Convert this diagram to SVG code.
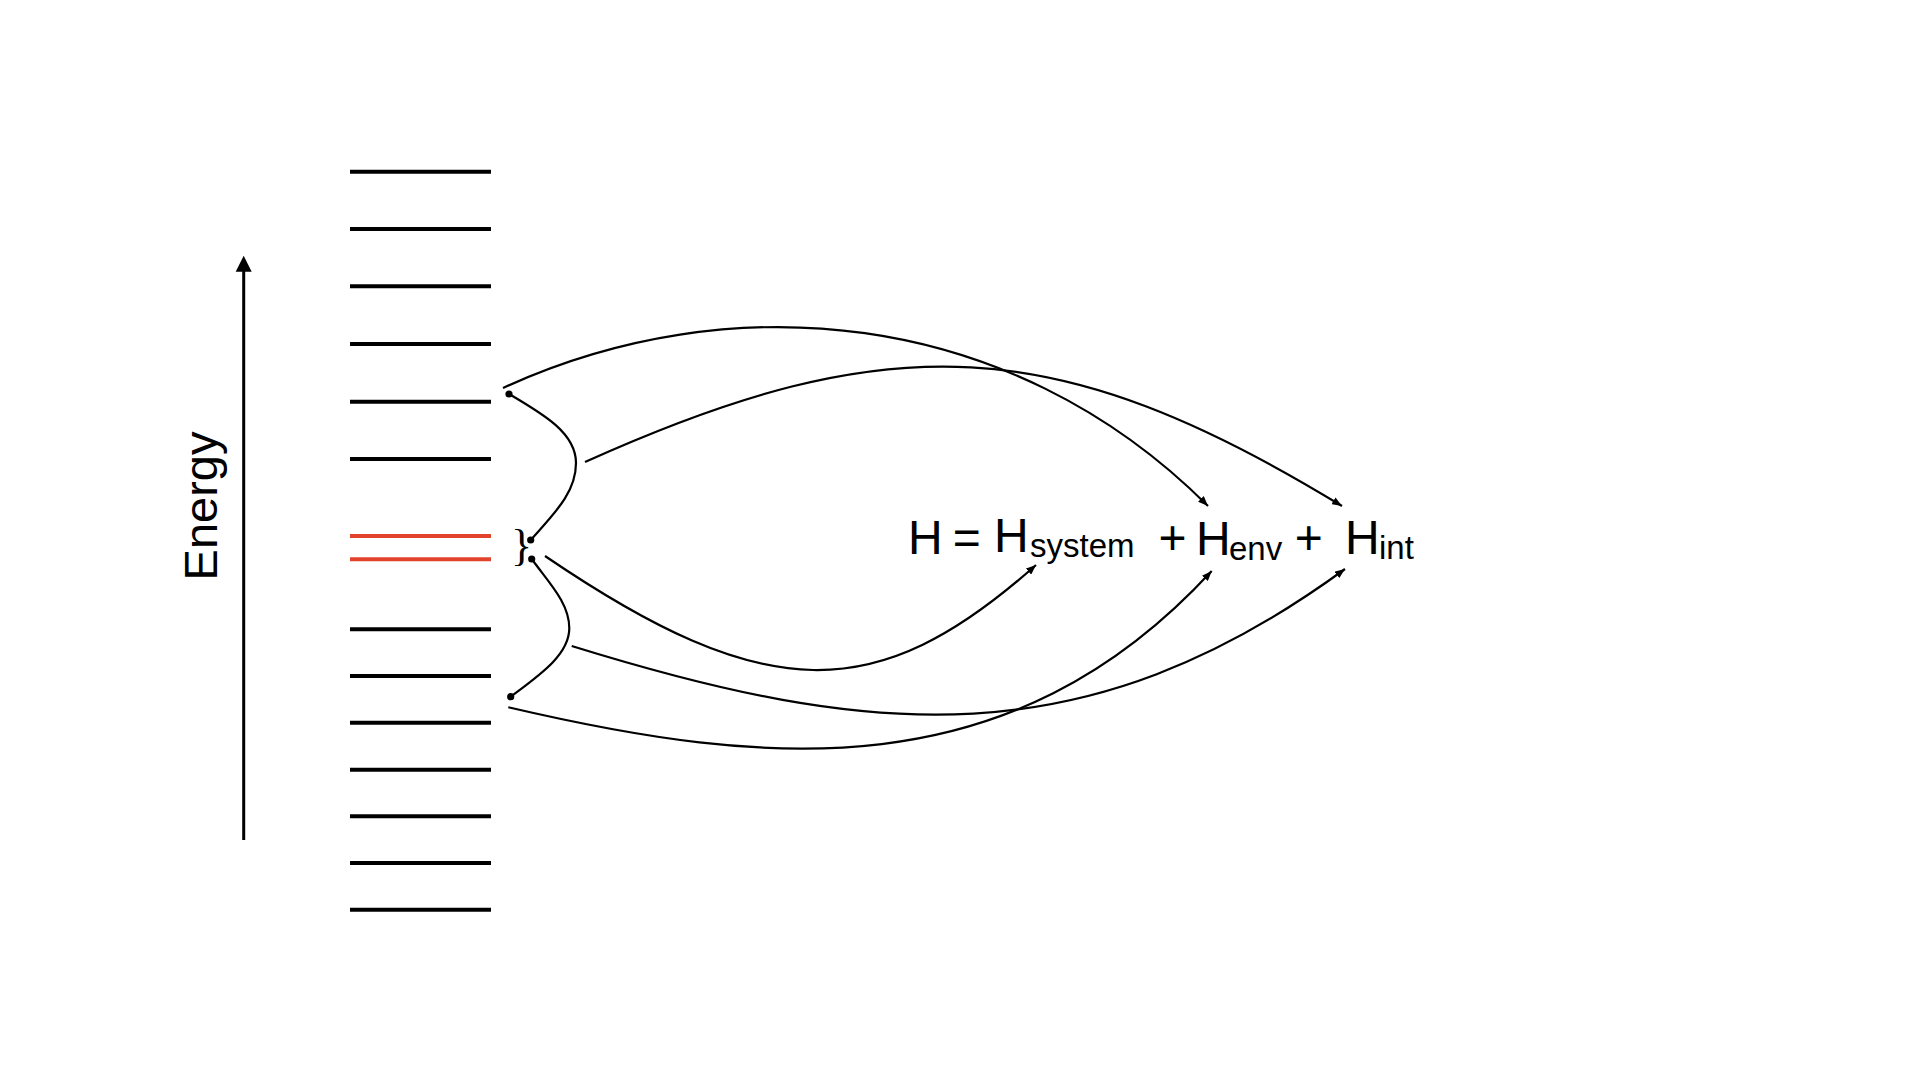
<svg xmlns="http://www.w3.org/2000/svg" width="1920" height="1080" viewBox="0 0 1920 1080">
<style>
.lvl{stroke:#000;stroke-width:4;fill:none}
.red{stroke:#e2432d;stroke-width:4;fill:none}
.con{stroke:#000;stroke-width:2.2;fill:none}
.arr{stroke:#000;stroke-width:2.2;fill:none;marker-end:url(#ah)}
.dot{fill:#000}
.t{font-family:"Liberation Sans",Arial,Helvetica,sans-serif;fill:#000}
.big{font-size:48px}
.sub{font-size:33px}
</style>
<defs>
<marker id="ah" viewBox="0 0 10 8" refX="10" refY="4" markerWidth="10" markerHeight="8" markerUnits="userSpaceOnUse" orient="auto">
<path d="M0,0 L10,4 L0,8 z" fill="#000"/>
</marker>
</defs>
<rect width="1920" height="1080" fill="#fff"/>
<g id="energy-axis">
<line x1="243.7" y1="840" x2="243.7" y2="270" stroke="#000" stroke-width="3"/>
<path d="M243.7,255.7 L251.7,271.7 L235.7,271.7 z" fill="#000"/>
<text class="t" font-size="47" text-anchor="middle" transform="translate(216.5,506) rotate(-90)">Energy</text>
</g>
<g id="levels">
<line class="lvl" x1="350" y1="171.7" x2="491" y2="171.7"/>
<line class="lvl" x1="350" y1="229" x2="491" y2="229"/>
<line class="lvl" x1="350" y1="286.3" x2="491" y2="286.3"/>
<line class="lvl" x1="350" y1="344" x2="491" y2="344"/>
<line class="lvl" x1="350" y1="401.7" x2="491" y2="401.7"/>
<line class="lvl" x1="350" y1="459" x2="491" y2="459"/>
<line class="red" x1="350" y1="536" x2="491" y2="536"/>
<line class="red" x1="350" y1="559.3" x2="491" y2="559.3"/>
<line class="lvl" x1="350" y1="629.3" x2="491" y2="629.3"/>
<line class="lvl" x1="350" y1="676" x2="491" y2="676"/>
<line class="lvl" x1="350" y1="722.7" x2="491" y2="722.7"/>
<line class="lvl" x1="350" y1="769.7" x2="491" y2="769.7"/>
<line class="lvl" x1="350" y1="816.3" x2="491" y2="816.3"/>
<line class="lvl" x1="350" y1="863" x2="491" y2="863"/>
<line class="lvl" x1="350" y1="909.7" x2="491" y2="909.7"/>
</g>
<g id="brace">
<text x="521.5" y="560" font-family="'Liberation Serif','Times New Roman',serif" font-size="44" text-anchor="middle">}</text>
</g>
<g id="dots">
<circle class="dot" cx="509" cy="394" r="3.6"/>
<circle class="dot" cx="530.7" cy="540" r="3.6"/>
<circle class="dot" cx="531.7" cy="559" r="3.6"/>
<circle class="dot" cx="510.7" cy="696.7" r="3.6"/>
</g>
<g id="connectors">
<path class="con" d="M509,394 C543,414 576,433 576,463 C576,493 553.8,513.8 530.7,540"/>
<path class="con" d="M531.7,559 C549.4,583.3 569.3,603 569.3,628.3 C569.3,655 538.7,675.7 510.7,696.7"/>
<path class="arr" d="M503,388 C728,284.5 1008,306 1208,506"/>
<path class="arr" d="M585,462 C890,324.75 1057,332.15 1342,506"/>
<path class="arr" d="M545,556 C765,705.6 876,707.4 1036,565"/>
<path class="arr" d="M571.7,646 C871.7,739 1085,758.8 1345,569"/>
<path class="arr" d="M508.3,707.3 C768,768 1010,790 1211.7,571"/>
</g>
<g id="term-H">
<text class="t big" x="908" y="554">H</text>
<text class="t big" x="966.7" y="554" text-anchor="middle">=</text>
</g>
<g id="term-Hsystem">
<text class="t big" x="994" y="552">H</text>
<text class="t sub" x="1030" y="557">system</text>
</g>
<g id="plus1">
<text class="t big" x="1172.5" y="554" text-anchor="middle">+</text>
</g>
<g id="term-Henv">
<text class="t big" x="1196" y="555">H</text>
<text class="t sub" x="1229" y="560">env</text>
</g>
<g id="plus2">
<text class="t big" x="1308.7" y="554" text-anchor="middle">+</text>
</g>
<g id="term-Hint">
<text class="t big" x="1345" y="554">H</text>
<text class="t sub" x="1379" y="559">int</text>
</g>
</svg>
